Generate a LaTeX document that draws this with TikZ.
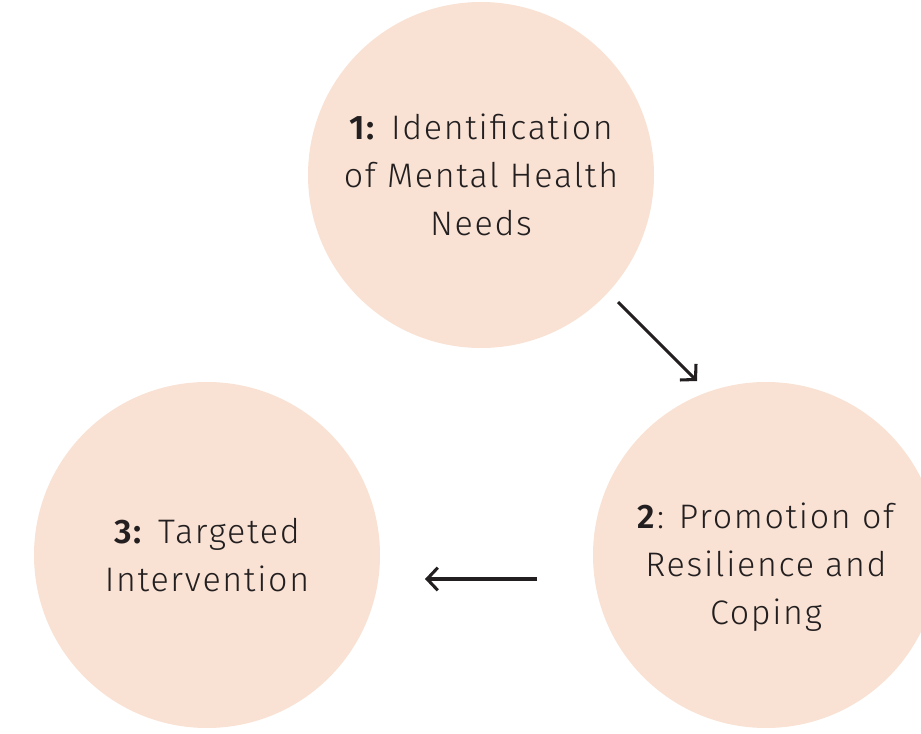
\documentclass[tikz,border=0pt]{standalone}
\usepackage{fontspec}
\setmainfont{Fira Sans Light}[BoldFont={Fira Sans SemiBold}, LetterSpace=5]
\usetikzlibrary{arrows.meta,positioning}
\definecolor{peach}{HTML}{F9E2D4}
\definecolor{ink}{HTML}{231F20}

\begin{document}
\begin{tikzpicture}[
  x=0.75pt, y=-0.75pt,
  stage/.style={circle, fill=peach, minimum size=259.5pt, inner sep=0pt},
  stagetext/.style={align=center, text=ink, font=\fontsize{25.5}{36}\selectfont},
  arrow/.style={-{Straight Barb[length=8pt, width=17pt]}, line width=2.3pt, ink},
]
\useasboundingbox (0,0) rectangle (921,734);

% Stages
\node[stage] (ident) at (481,175) {};
\node[stage] (resil) at (766,555) {};
\node[stage] (target) at (207,555) {};

% Stage texts
\node[stagetext] (identtxt) at (ident.center) {\textbf{1:} Identification\\of Mental Health\\Needs};
\node[stagetext] (resiltxt) at ([yshift=-9pt]resil.center) {\textbf{2}: Promotion of\\Resilience and\\Coping};
\node[stagetext] (targettxt) at (target.center) {\textbf{3:} Targeted\\Intervention};

% Arrow ends
\coordinate (a1) at (618,302);
\coordinate (b1) at (697,381);
\coordinate (a2) at (537,579);
\coordinate (b2) at (425,579);

% Arrows
\draw[arrow] (a1) -- (b1);
\draw[arrow] (a2) -- (b2);

\end{tikzpicture}
\end{document}
